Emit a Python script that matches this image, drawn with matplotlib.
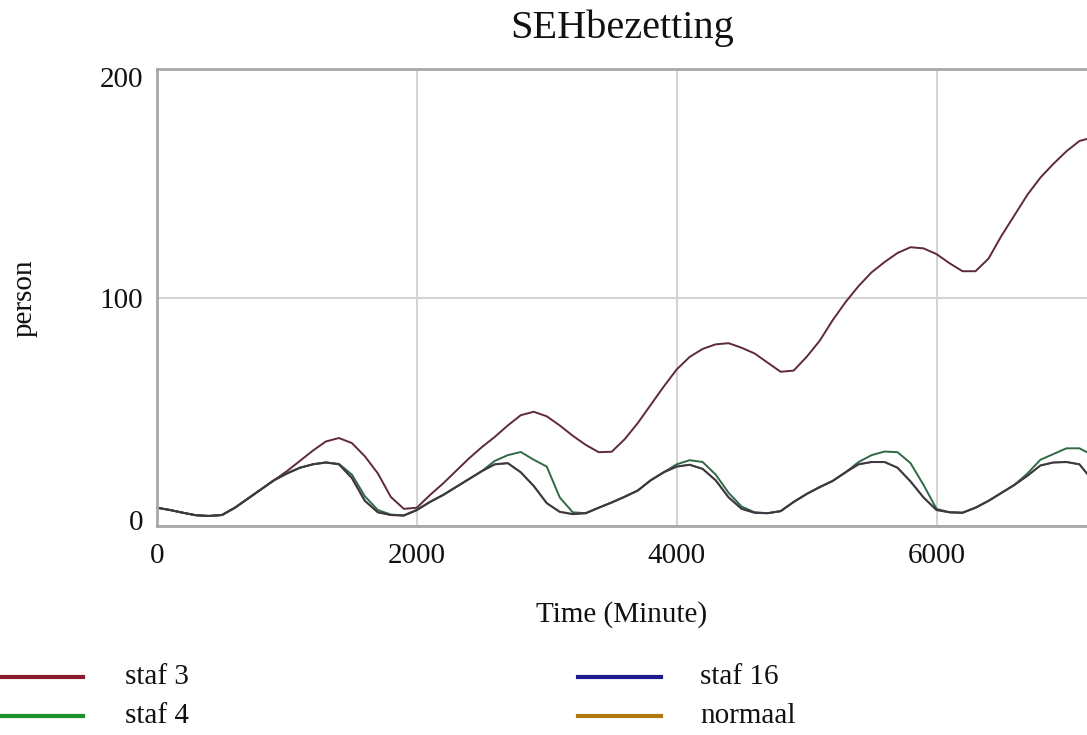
import matplotlib
matplotlib.use("Agg")
import matplotlib.pyplot as plt
import matplotlib.transforms as mtransforms
from matplotlib.lines import Line2D

# time axis, minutes (step 100)
time_min = list(range(0, 7300, 100))

staf_3 = [8, 7, 5.8, 4.7, 4.4, 4.8, 8, 12, 16, 20,
          24, 28.5, 33, 37, 38.5, 36.3, 30.5, 23, 12.7, 7.5,
          8, 13.5, 18.5, 24, 29.5, 34.5, 39, 44, 48.5, 50,
          48, 44, 39.5, 35.5, 32.3, 32.5, 38, 45, 53, 61,
          68.5, 74, 77.5, 79.5, 80, 78, 75.5, 71.5, 67.5, 68,
          74, 81, 90, 98, 105, 111, 115.5, 119.5, 122, 121.5,
          119, 115, 111.5, 111.5, 117, 127, 136, 145, 152.5, 158.5,
          164, 168.5, 170]

staf_4 = [8, 7, 5.8, 4.7, 4.4, 4.8, 8, 12, 16, 20,
          23, 25.5, 27, 27.8, 27.2, 22.5, 13, 7, 5, 4.6,
          7, 10.5, 13.5, 17, 20.5, 24, 28.5, 31, 32.4, 29,
          26, 12.5, 6, 5.6, 8, 10.3, 12.8, 15.5, 20, 23.5,
          27, 28.8, 28, 22.5, 14.5, 8.5, 6, 5.6, 6.5, 10.5,
          14, 17, 19.7, 23.5, 28, 31, 32.6, 32.3, 27.5, 18,
          7.5, 6, 5.8, 8, 11, 14.5, 18, 23, 29, 31.5,
          34, 34, 31]

staf_16 = [8, 7, 5.8, 4.7, 4.4, 4.8, 8, 12, 16, 20,
           23, 25.5, 27, 27.8, 27, 21, 11, 6, 4.8, 4.6,
           7, 10.5, 13.5, 17, 20.5, 24, 27, 27.5, 23.5, 17.5,
           10, 6.2, 5.2, 5.6, 8, 10.3, 12.8, 15.5, 20, 23.5,
           26, 26.8, 25, 20, 12.5, 7.5, 5.8, 5.6, 6.5, 10.5,
           14, 17, 19.7, 23.5, 27, 28, 28, 25.5, 19.5, 12.5,
           7, 6, 5.8, 8, 11, 14.5, 18, 22, 26.5, 27.8,
           28, 27, 20]

normaal = [8, 7, 5.8, 4.7, 4.4, 4.8, 8, 12, 16, 20,
           23, 25.5, 27, 27.8, 27, 21, 11, 6, 4.8, 4.6,
           7, 10.5, 13.5, 17, 20.5, 24, 27, 27.5, 23.5, 17.5,
           10, 6.2, 5.2, 5.6, 8, 10.3, 12.8, 15.5, 20, 23.5,
           26, 26.8, 25, 20, 12.5, 7.5, 5.8, 5.6, 6.5, 10.5,
           14, 17, 19.7, 23.5, 27, 28, 28, 25.5, 19.5, 12.5,
           7, 6, 5.8, 8, 11, 14.5, 18, 22, 26.5, 27.8,
           28, 27, 20]

# (label, values, legend colour, plotted line colour)
series = [
    ("staf 3", staf_3, "#8b1a2a", "#5e2a38"),
    ("staf 4", staf_4, "#1f8f2a", "#2f6a45"),
    ("staf 16", staf_16, "#1a1a8c", "#2a2a55"),
    ("normaal", normaal, "#b07810", "#5a4a30"),
]

plt.rcParams["font.family"] = ["Liberation Serif", "DejaVu Serif"]

W, H = 1087, 735
fig = plt.figure(figsize=(W / 100, H / 100), dpi=100)
fig.patch.set_facecolor("white")
ax = fig.add_axes([157 / W, 1 - 526 / H, 1 - 157 / W + 0.002, (526 - 69) / H])

ax.plot(time_min, staf_3, color=series[0][3], linewidth=1.4)
ax.plot(time_min, staf_4, color=series[1][3], linewidth=1.4)
ax.plot(time_min, normaal, color=series[3][3], linewidth=1.5)
ax.plot(time_min, staf_16, color=series[2][3], linewidth=1.3, alpha=0.6)

ax.set_xlim(0, 7175)
ax.set_ylim(0, 200)
ax.set_xticks([0, 2000, 4000, 6000])
ax.set_yticks([0, 100, 200])
ax.grid(True, color="#d4d4d4", linewidth=1.5)
ax.set_axisbelow(True)
for sp in ("left", "bottom", "top"):
    ax.spines[sp].set_color("#a8a8a8")
    ax.spines[sp].set_linewidth(2)
ax.spines["right"].set_visible(False)
ax.tick_params(length=0, labelsize=21, colors="#111111")
ax.tick_params(axis="x", pad=12)
ax.tick_params(axis="y", pad=10)

# Vensim nudges the end labels inward
fig.canvas.draw()
ylabels = ax.get_yticklabels()
shifts = [6, 0, -8]
for lab, dy in zip(ylabels, shifts):
    off = mtransforms.ScaledTranslation(0, dy / 100, fig.dpi_scale_trans)
    lab.set_transform(lab.get_transform() + off)

fig.text(622 / W, 1 - 28 / H, "SEHbezetting", ha="center", va="center",
         fontsize=29, color="#111111")
fig.text(622 / W, 1 - 615 / H, "Time (Minute)", ha="center", va="center",
         fontsize=21, color="#111111")
fig.text(25 / W, 1 - 298 / H, "person", ha="center", va="center",
         rotation=90, fontsize=21, color="#111111")

# legend, two columns below the plot
legend_pos = [(0, 677, 125), (0, 716, 125), (578, 677, 700), (578, 716, 700)]
for (name, vals, color, _), (x0, yy, xt) in zip(series, legend_pos):
    fig.add_artist(Line2D([x0 / W, (x0 + 83) / W], [1 - yy / H, 1 - yy / H],
                          color=color, linewidth=3, transform=fig.transFigure))
    fig.text(xt / W, 1 - yy / H, name, ha="left", va="center",
             fontsize=21, color="#111111")

fig.savefig("out.png", dpi=100, facecolor=fig.get_facecolor())
